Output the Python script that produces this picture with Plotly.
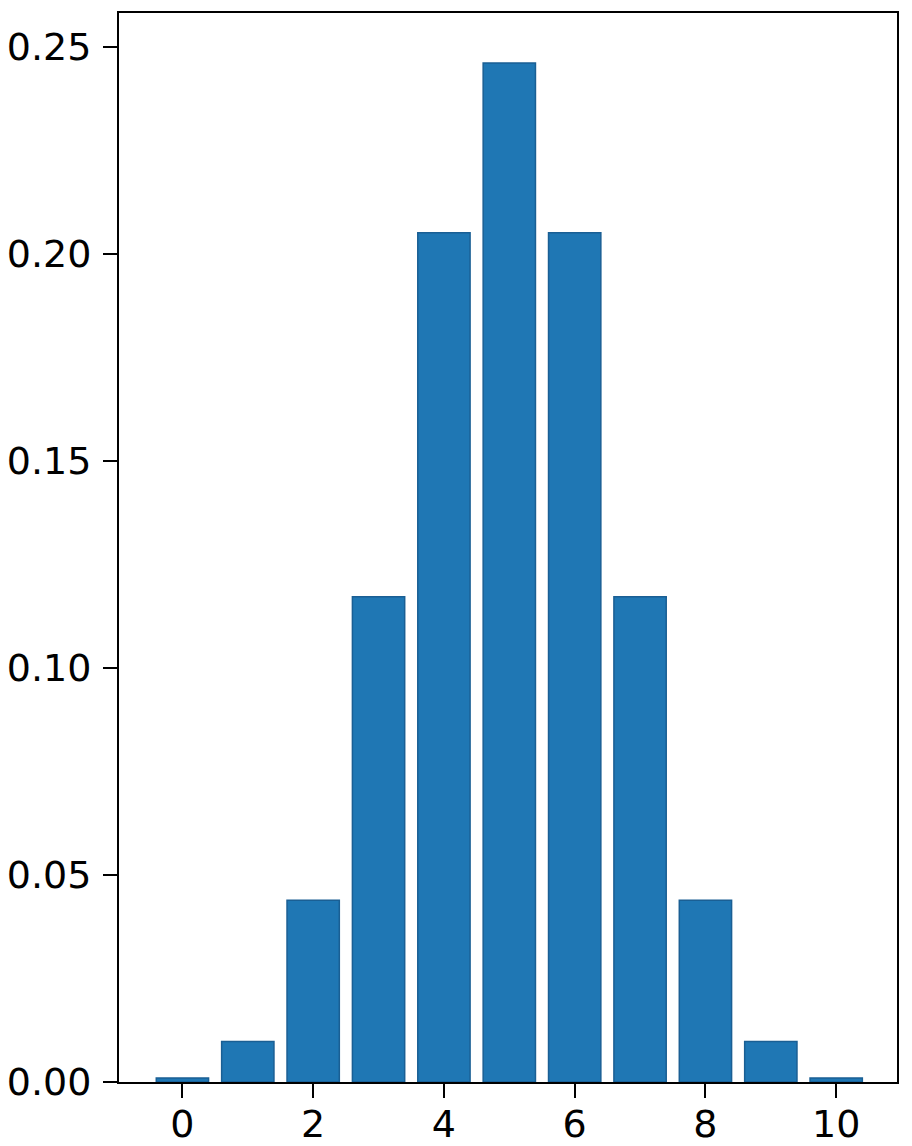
import plotly.graph_objects as go

# outcomes k and their probabilities
outcomes = [0, 1, 2, 3, 4, 5, 6, 7, 8, 9, 10]
probabilities = [0.00098, 0.00977, 0.0439, 0.1172, 0.2051, 0.2461,
                 0.2051, 0.1172, 0.0439, 0.00977, 0.00098]
x_ticks = [0, 2, 4, 6, 8, 10]
y_ticks = [0.00, 0.05, 0.10, 0.15, 0.20, 0.25]

fig = go.Figure()
fig.add_trace(go.Bar(
    x=outcomes,
    y=probabilities,
    width=0.8,
    marker=dict(color='#1f77b4', line=dict(color='#1a5f94', width=1.5)),
))

axis_style = dict(
    showline=True, mirror=True, linecolor='black', linewidth=2,
    ticks='outside', ticklen=14, tickwidth=2, tickcolor='black',
    showgrid=False, zeroline=False, automargin=False,
    tickfont=dict(family='DejaVu Sans', size=38, color='black'),
)

# the page body adds an 8px offset, so margins are shifted to compensate
fig.update_layout(
    width=912, height=1146,
    margin=dict(l=111, r=23, t=5, b=72),
    plot_bgcolor='white', paper_bgcolor='white',
    showlegend=False,
    xaxis=dict(range=[-0.97, 10.93], tickvals=x_ticks,
               ticklabelstandoff=-7, **axis_style),
    yaxis=dict(range=[0, 0.2582], tickvals=y_ticks, tickformat='.2f',
               ticklabelstandoff=4, **axis_style),
)

fig.write_html("out.html")
